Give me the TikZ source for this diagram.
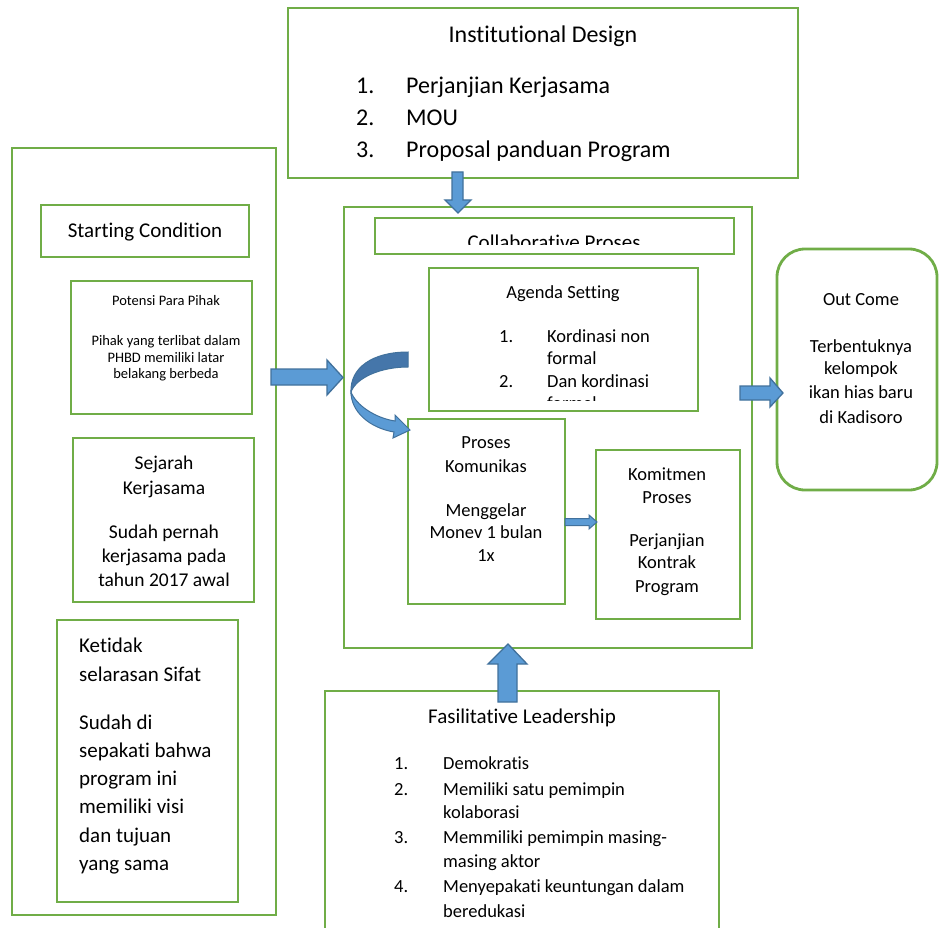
\documentclass[tikz,border=0pt]{standalone}
\usepackage{fontspec}
\setmainfont{Carlito}[Ligatures=NoCommon]
\definecolor{grn}{HTML}{70AD47}
\definecolor{afill}{HTML}{5B9BD5}
\definecolor{aline}{HTML}{41719C}
\definecolor{adark}{HTML}{4576AA}
\begin{document}
\begin{tikzpicture}[x=1pt,y=-1pt,
  box/.style={draw=grn,line width=2.8pt,fill=white,inner sep=0,outer sep=0},
  blk/.style={fill=afill,draw=aline,line width=1.3pt,line join=miter},
  t/.style={inner sep=0,anchor=base},
  tl/.style={inner sep=0,anchor=base west},
  fA/.style={font=\fontsize{24}{29}\selectfont},
  fB/.style={font=\fontsize{21}{25}\selectfont},
  fC/.style={font=\fontsize{19.5}{23}\selectfont},
  fD/.style={font=\fontsize{18.5}{22}\selectfont},
  fE/.style={font=\fontsize{14.5}{17}\selectfont}]
\clip (0,0) rectangle (939,928);
\fill[white] (0,0) rectangle (939,928);

% ---------- boxes ----------
\node[box,minimum width=510pt,minimum height=170pt] (id) at (543,93) {};
\node[box,minimum width=264pt,minimum height=767pt] (sc) at (144,531.5) {};
\node[box,minimum width=208pt,minimum height=52pt] (sct) at (145,231) {};
\node[box,minimum width=181pt,minimum height=133pt] (pot) at (161.5,347.5) {};
\node[box,minimum width=181pt,minimum height=164pt] (sej) at (163.5,520) {};
\node[box,minimum width=181pt,minimum height=282pt] (ket) at (147.5,761) {};
\node[box,minimum width=408pt,minimum height=441pt] (cp) at (548,427.5) {};
\node[box,minimum width=359pt,minimum height=36pt] (cph) at (554.5,236) {};
\node[box,minimum width=269pt,minimum height=143pt] (ag) at (563.5,339.5) {};
\node[box,minimum width=157pt,minimum height=185pt] (pk) at (486.5,511.5) {};
\node[box,minimum width=144pt,minimum height=169pt] (km) at (668,534.5) {};
\node[box,rounded corners=28pt,minimum width=160pt,minimum height=241pt] (oc) at (857,369.5) {};
\node[box,minimum width=394pt,minimum height=258pt] (fl) at (522,820) {};

% ---------- texts ----------
% Institutional Design
\node[t,fA] (idt) at (543,43) {Institutional Design};
\node[tl,fA] (idn1) at (356,94) {1.};
\node[tl,fA] (idi1) at (406,94) {Perjanjian Kerjasama};
\node[tl,fA] (idn2) at (356,126) {2.};
\node[tl,fA] (idi2) at (406,126) {MOU};
\node[tl,fA] (idn3) at (356,158) {3.};
\node[tl,fA] (idi3) at (406,158) {Proposal panduan Program};

% Starting condition
\node[t,fB] (sctt) at (145,237) {Starting Condition};
\node[t,fE] (pot1) at (166,305) {Potensi Para Pihak};
\node[t,fE] (pot2) at (166,345) {Pihak yang terlibat dalam};
\node[t,fE] (pot3) at (166,362) {PHBD memiliki latar};
\node[t,fE] (pot4) at (166,378) {belakang berbeda};
\node[t,fC] (sej1) at (164,469) {Sejarah};
\node[t,fC] (sej2) at (164,494) {Kerjasama};
\node[t,fC] (sej3) at (164,538) {Sudah pernah};
\node[t,fC] (sej4) at (164,562) {kerjasama pada};
\node[t,fC] (sej5) at (164,586) {tahun 2017 awal};
\node[tl,fB] (ket1) at (79,652) {Ketidak};
\node[tl,fB] (ket2) at (79,681) {selarasan Sifat};
\node[tl,fB] (ket3) at (79,729) {Sudah di};
\node[tl,fB] (ket4) at (79,757) {sepakati bahwa};
\node[tl,fB] (ket5) at (79,785) {program ini};
\node[tl,fB] (ket6) at (79,813) {memiliki visi};
\node[tl,fB] (ket7) at (79,842) {dan tujuan};
\node[tl,fB] (ket8) at (79,870) {yang sama};

% Collaborative header (clipped)
\begin{scope}
\clip (375,218) rectangle (734,244);
\node[t,fB] (cpht) at (554,249) {Collaborative Proses};
\end{scope}

% Agenda setting
\node[t,fD] (ag0) at (563,298) {Agenda Setting};
\node[tl,fD] (agn1) at (499,342) {1.};
\node[tl,fD] (agi1) at (547,342) {Kordinasi non};
\node[tl,fD] (agi1b) at (547,364) {formal};
\node[tl,fD] (agn2) at (499,387) {2.};
\node[tl,fD] (agi2) at (547,387) {Dan kordinasi};
\begin{scope}
\clip (429,268) rectangle (698,400);
\node[tl,fD] (agi2b) at (547,409) {formal};
\end{scope}

% Proses Komunikas
\node[t,fD] (pk1) at (486,448) {Proses};
\node[t,fD] (pk2) at (486,472) {Komunikas};
\node[t,fD] (pk3) at (486,516) {Menggelar};
\node[t,fD] (pk4) at (486,538) {Monev 1 bulan};
\node[t,fD] (pk5) at (486,561) {1x};

% Komitmen
\node[t,fD] (km1) at (667,480) {Komitmen};
\node[t,fD] (km2) at (667,503) {Proses};
\node[t,fD] (km3) at (667,546) {Perjanjian};
\node[t,fD] (km4) at (667,568) {Kontrak};
\node[t,fD] (km5) at (667,592) {Program};

% Out Come
\node[t,fD] (oc1) at (861,305) {Out Come};
\node[t,fD] (oc2) at (861,352) {Terbentuknya};
\node[t,fD] (oc3) at (861,374) {kelompok};
\node[t,fD] (oc4) at (861,398) {ikan hias baru};
\node[t,fD] (oc5) at (861,423) {di Kadisoro};

% Fasilitative
\node[t,fB] (flt) at (522,723) {Fasilitative Leadership};
\node[tl,fD] (fln1) at (394,769) {1.};
\node[tl,fD] (fli1) at (443,769) {Demokratis};
\node[tl,fD] (fln2) at (394,795) {2.};
\node[tl,fD] (fli2) at (443,795) {Memiliki satu pemimpin};
\node[tl,fD] (fli2b) at (443,818) {kolaborasi};
\node[tl,fD] (fln3) at (394,843) {3.};
\node[tl,fD] (fli3) at (443,843) {Memmiliki pemimpin masing-};
\node[tl,fD] (fli3b) at (443,867) {masing aktor};
\node[tl,fD] (fln4) at (394,892) {4.};
\node[tl,fD] (fli4) at (443,892) {Menyepakati keuntungan dalam};
\node[tl,fD] (fli4b) at (443,917) {beredukasi};

% ---------- block arrows ----------
% Institutional design -> collaborative
\draw[blk] (452,172) -- (452,200) -- (445,200) -- (458,213) -- (471,200) -- (463,200) -- (463,172) -- cycle;
% Starting condition -> collaborative
\draw[blk] (271,369) -- (327,369) -- (327,360) -- (343,377.5) -- (327,395) -- (327,385) -- (271,385) -- cycle;
% collaborative -> out come
\draw[blk] (740,386) -- (770,386) -- (770,378) -- (783,393) -- (770,407) -- (770,400) -- (740,400) -- cycle;
% proses komunikas -> komitmen
\draw[blk,line width=1pt] (565,518.5) -- (589,518.5) -- (589,515) -- (597,522) -- (589,529) -- (589,525.5) -- (565,525.5) -- cycle;
% fasilitative -> collaborative
\draw[blk] (498,702) -- (498,664) -- (488,664) -- (508,644) -- (527,664) -- (517,664) -- (517,702) -- cycle;

% curved arrow
\draw[fill=adark,draw=aline,line width=1pt]
  (408,352) .. controls (372,352) and (350,368) .. (351,392)
  .. controls (356,378) and (380,367) .. (408,367) -- cycle;
\draw[fill=afill,draw=aline,line width=1pt]
  (351,392) .. controls (351,412) and (370,428) .. (394,432)
  -- (393,438) -- (410,430) -- (395,415) -- (395,421)
  .. controls (375,418) and (356,405) .. (351,392) -- cycle;
\end{tikzpicture}
\end{document}
